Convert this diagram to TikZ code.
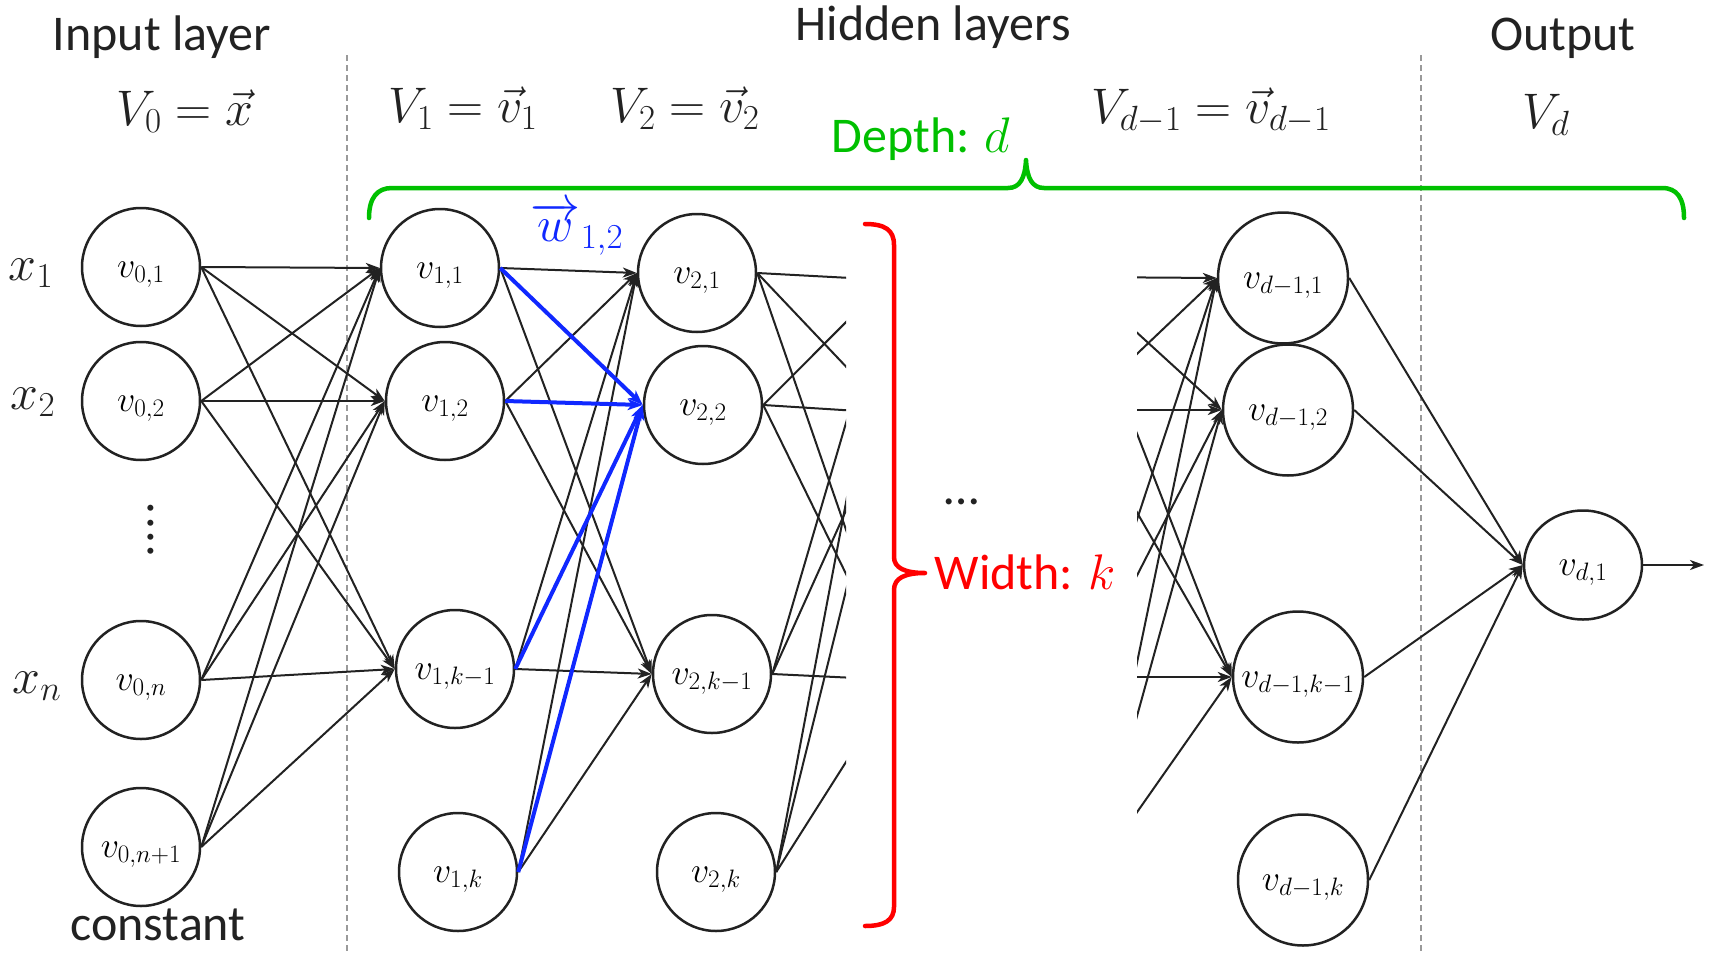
\RequirePackage{fix-cm}
\documentclass[tikz,border=0pt]{standalone}
\usepackage[no-math]{fontspec}
\setmainfont{Carlito}
\usetikzlibrary{shapes.geometric,arrows.meta}
\definecolor{ink}{HTML}{222222}
\definecolor{dgreen}{RGB}{0,192,0}
\definecolor{dred}{RGB}{255,0,0}
\definecolor{dblue}{RGB}{16,40,255}
\definecolor{sep}{HTML}{9A9A9A}
\newcommand\fsHead{\fontsize{50}{60}\selectfont}
\newcommand\fsMath{\fontsize{50}{58}\selectfont}
\newcommand\fsNode{\fontsize{36}{42}\selectfont}
\tikzset{
  neuron/.style={draw=ink, line width=2.5pt, ellipse, minimum width=118pt, minimum height=118pt, inner xsep=-25pt, inner ysep=0pt, font=\fsNode, text height=28pt, text depth=8pt},
  bigneuron/.style={neuron, minimum width=130pt, minimum height=131pt},
  outneuron/.style={neuron, minimum width=118pt, minimum height=109pt},
  edge/.style={draw=ink, line width=2pt, -{Stealth[length=14pt,width=10pt,inset=4pt]}},
  bedge/.style={draw=dblue, line width=4pt, -{Stealth[length=15pt,width=11pt,inset=4pt]}},
  stub/.style={draw=ink, line width=2pt},
  sepline/.style={draw=sep, line width=1.5pt, dash pattern=on 6pt off 4pt},
  headtext/.style={font=\fsHead, text=ink, anchor=base, inner sep=0pt},
  mathtext/.style={font=\fsMath, text=ink, anchor=base, inner sep=0pt},
  xlabel/.style={font=\fontsize{50}{56}\selectfont, text=ink, anchor=base, inner sep=0pt},
  bracepath/.style={line width=4.5pt, line cap=round, line join=round}
}
\begin{document}
\begin{tikzpicture}[x=1pt,y=-1pt]
\useasboundingbox (0,0) rectangle (1711,953);
\fill[white] (0,0) rectangle (1711,953);

% separators
\coordinate (s1t) at (347,55);
\coordinate (s1b) at (347,953);
\coordinate (s2t) at (1421,55);
\coordinate (s2b) at (1421,953);
\draw[sepline] (s1t) -- (s1b);
\draw[sepline] (s2t) -- (s2b);

% headers
\node[headtext] (hin) at (162,50) {Input layer};
\node[headtext] (hhid) at (933,40) {Hidden layers};
\node[headtext] (hout) at (1563,50) {Output};
\node[mathtext] (m0) at (185,125) {$V_0=\vec{x}$};
\node[mathtext] (m1) at (463,122) {$V_1=\vec{v}_1$};
\node[mathtext] (m2) at (685,122) {$V_2=\vec{v}_2$};
\node[mathtext] (md1) at (1211,123) {$V_{d-1}=\vec{v}_{d-1}$};
\node[mathtext] (md) at (1546,128) {$V_d$};

% layer 0
\node[neuron] (a1) at (141,267) {$v_{0,1}$};
\node[neuron] (a2) at (141,401) {$v_{0,2}$};
\node[neuron] (a3) at (141,680) {$v_{0,n}$};
\node[neuron] (a4) at (141,847) {$v_{0,n+1}$};
% layer 1
\node[neuron] (b1) at (440,268) {$v_{1,1}$};
\node[neuron] (b2) at (445,401) {$v_{1,2}$};
\node[neuron] (b3) at (455,669) {$v_{1,k-1}$};
\node[neuron] (b4) at (458,872) {$v_{1,k}$};
% layer 2
\node[neuron] (c1) at (697,273) {$v_{2,1}$};
\node[neuron] (c2) at (703,405) {$v_{2,2}$};
\node[neuron] (c3) at (712,674) {$v_{2,k-1}$};
\node[neuron] (c4) at (716,872) {$v_{2,k}$};
% layer d-1
\node[bigneuron] (e1) at (1283,278) {$v_{d-1,1}$};
\node[bigneuron] (e2) at (1288,410) {$v_{d-1,2}$};
\node[bigneuron] (e3) at (1298,677) {$v_{d-1,k-1}$};
\node[bigneuron] (e4) at (1303,880) {$v_{d-1,k}$};
% output
\node[outneuron] (o) at (1583,565) {$v_{d,1}$};
\coordinate (oend) at (1704,565);

% phantom layers (clipped)
\coordinate (p1) at (888,280);
\coordinate (p2) at (890,413);
\coordinate (p3) at (898,680);
\coordinate (q1) at (1076,277);
\coordinate (q2) at (1078,410);
\coordinate (q3) at (1085,677);
\coordinate (q4) at (1093,875);

% input labels
\node[xlabel] (x1) at (31,280) {$x_1$};
\node[xlabel] (x2) at (33,409) {$x_2$};
\node[xlabel] (xn) at (37,693) {$x_n$};
\node[headtext] (const) at (158,940) {constant};
\node[font=\fsHead, text=ink, inner sep=0pt, rotate=90] (vdots) at (151,530) {.\kern1.7pt.\kern1.7pt.\kern1.7pt.};
\node[font=\fsHead, text=ink, anchor=base, inner sep=0pt] (hd) at (962,504) {…};

% edges layer 0 -> 1
\foreach \s in {a1,a2,a3,a4}
  \foreach \t in {b1,b2,b3}
    \draw[edge] (\s.east) -- (\t.west);
% layer 1 -> 2 (black)
\foreach \s in {b1,b2,b3,b4}
  \foreach \t in {c1,c3}
    \draw[edge] (\s.east) -- (\t.west);
% layer 1 -> 2 (blue)
\foreach \s in {b1,b2,b3,b4}
  \draw[bedge] (\s.east) -- (c2.west);
\node[font=\fontsize{50}{56}\selectfont, text=dblue, anchor=base, inner sep=0pt] (wlab) at (577,241) {$\overrightarrow{w}_{1,2}$};

% stubs out of layer 2
\begin{scope}
\clip (740,150) rectangle (846,953);
\foreach \s in {c1,c2,c3,c4}
  \foreach \t in {p1,p2,p3}
    \draw[stub] (\s.east) -- (\t);
\end{scope}
% stubs into layer d-1
\begin{scope}
\clip (1137,150) rectangle (1260,953);
\foreach \s in {q1,q2,q3,q4}
  \foreach \t in {e1,e2,e3}
    \draw[edge] (\s) -- (\t.west);
\end{scope}

% layer d-1 -> output
\foreach \s in {e1,e2,e3,e4}
  \draw[edge] (\s.east) -- (o.west);
\draw[edge] (o.east) -- (oend);

% green brace (depth)
\draw[bracepath, dgreen] (369,218) .. controls (369,198) and (377,188) .. (392,188)
  -- (1008,188) .. controls (1020,188) and (1025,178) .. (1026,160)
  .. controls (1027,178) and (1032,188) .. (1044,188)
  -- (1662,188) .. controls (1677,188) and (1684,198) .. (1684,218);
\node[font=\fsHead, text=dgreen, anchor=base, inner sep=0pt] (depth) at (921,152) {Depth: $d$};

% red brace (width)
\draw[bracepath, dred] (865,224) .. controls (885,224) and (894,230) .. (894,245)
  -- (894,557) .. controls (894,568) and (905,573) .. (925,573)
  .. controls (905,573) and (894,578) .. (894,590)
  -- (894,907) .. controls (894,920) and (885,926) .. (865,926);
\node[font=\fsHead, text=dred, anchor=base, inner sep=0pt] (width) at (1025,589) {Width: $k$};
\end{tikzpicture}
\end{document}
